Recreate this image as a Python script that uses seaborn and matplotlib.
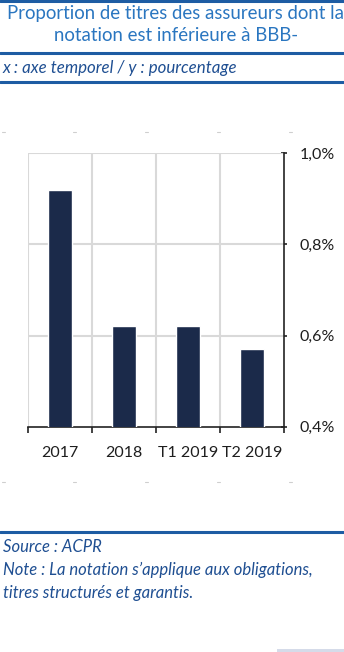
import matplotlib
matplotlib.use("Agg")
import matplotlib.pyplot as plt
from matplotlib.lines import Line2D
from matplotlib.patches import Rectangle
from matplotlib.ticker import FixedLocator, FuncFormatter
import seaborn as sns
import pandas as pd

# Data
periods = ["2017", "2018", "T1 2019", "T2 2019"]
share_below_bbb = [0.92, 0.62, 0.62, 0.57]  # in %
y_ticks = [0.4, 0.6, 0.8, 1.0]

title_lines = ["Proportion de titres des assureurs dont la",
               "notation est inférieure à BBB-"]
subtitle = "x : axe temporel / y : pourcentage"
source = "Source : ACPR"
note_lines = ["Note : La notation s\u2019applique aux obligations,",
              "titres structurés et garantis."]

BAR = "#1b2a4a"
RULE = "#1d5ca3"
TITLE_BLUE = "#2a76c0"
TEXT_BLUE = "#1f4f92"
GRID = "#d9d9d9"

sns.set_theme(style="white")
plt.rcParams["font.family"] = ["Lato", "DejaVu Sans"]

W, H = 344, 652
fig = plt.figure(figsize=(W / 100, H / 100), dpi=100)

def fx(px):
    return px / W

def fy(py):
    return 1 - py / H

df = pd.DataFrame({"period": periods, "value": share_below_bbb})

ax = fig.add_axes([fx(28), fy(426.7), fx(284) - fx(28), fy(153.3) - fy(426.7)])
sns.barplot(data=df, x="period", y="value", color=BAR, width=0.37,
            saturation=1, ax=ax, zorder=3)

ax.set_xlim(-0.5, len(periods) - 0.5)
ax.set_ylim(y_ticks[0], y_ticks[-1])
ax.set_xlabel("")
ax.set_ylabel("")

# y axis on the right
ax.yaxis.tick_right()
ax.yaxis.set_major_locator(FixedLocator(y_ticks))
ax.yaxis.set_major_formatter(FuncFormatter(lambda v, p: f"{v:.1f}%".replace(".", ",")))
ax.tick_params(axis="y", which="major", direction="inout", length=5, width=1.2,
               color="#222222", pad=9, labelsize=11.5, labelcolor="#1e1e1e",
               right=True, left=False)

# x: labels at category centres, ticks at category boundaries
ax.tick_params(axis="x", which="major", length=0, pad=14, labelsize=11.5,
               labelcolor="#1e1e1e")
ax.xaxis.set_minor_locator(FixedLocator([i - 0.5 for i in range(len(periods) + 1)]))
ax.tick_params(axis="x", which="minor", direction="out", length=4, width=1.2,
               color="#222222", bottom=True)

# grid
for yv in y_ticks[1:]:
    ax.axhline(yv, color=GRID, lw=1.5, zorder=1)
for xb in [i - 0.5 for i in range(len(periods))]:
    ax.axvline(xb, color=GRID, lw=1.5, zorder=1)

for side in ["top", "left"]:
    ax.spines[side].set_visible(False)
for side in ["right", "bottom"]:
    ax.spines[side].set_visible(True)
    ax.spines[side].set_color("#222222")
    ax.spines[side].set_linewidth(1.2)

# Header rules and text
def hrule(py, lw=2.2, x0=0, x1=W):
    fig.add_artist(Line2D([fx(x0), fx(x1)], [fy(py), fy(py)], color=RULE, lw=lw))

hrule(1.0)
hrule(52.7)
hrule(81.7)
hrule(532.3)

fig.text(fx(7), fy(14), title_lines[0], ha="left", va="center",
         fontsize=13.4, color=TITLE_BLUE)
fig.text(fx(176), fy(35.5), title_lines[1], ha="center", va="center",
         fontsize=13.4, color=TITLE_BLUE)
fig.text(fx(3), fy(68), subtitle, ha="left", va="center",
         fontsize=12.2, color=TEXT_BLUE, style="italic")

fig.text(fx(3), fy(547), source, ha="left", va="center",
         fontsize=12, color=TEXT_BLUE, style="italic")
fig.text(fx(3), fy(570), note_lines[0], ha="left", va="center",
         fontsize=12, color=TEXT_BLUE, style="italic")
fig.text(fx(3), fy(593), note_lines[1], ha="left", va="center",
         fontsize=12, color=TEXT_BLUE, style="italic")

# faint dashes framing the chart area
for py in (132, 482):
    for px in (2, 73, 145, 217, 289):
        fig.add_artist(Line2D([fx(px), fx(px + 3)], [fy(py), fy(py)],
                              color="#cfcfcf", lw=0.8))

fig.add_artist(Rectangle((fx(277), 0), fx(344) - fx(277), 3 / H,
                         transform=fig.transFigure, color="#d5dbe9", lw=0))

fig.savefig("out.png", dpi=100)
